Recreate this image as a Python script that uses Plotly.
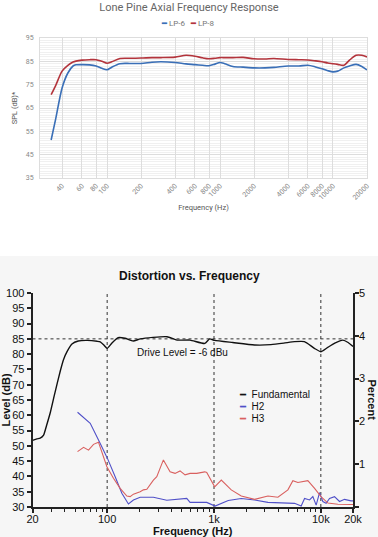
import plotly.graph_objects as go
import math

# ---------------- Top chart data ----------------
fr_freq = [32, 35, 40, 45, 50, 53, 60, 70, 80, 90, 100, 110, 130, 160, 200, 250, 300, 400, 500, 600,
           700, 800, 900, 1000, 1100, 1300, 1600, 2000, 2500, 3000, 4000, 5000, 6000, 7000, 8000,
           9000, 10000, 11000, 12500, 14000, 16000, 18000, 20000]
lp6 = [51.3, 60.0, 73.6, 80.0, 83.0, 83.5, 83.6, 83.5, 83.0, 82.0, 81.4, 82.5, 84.0, 84.1, 84.1, 84.6,
       84.8, 84.5, 83.9, 83.6, 83.3, 83.1, 83.8, 84.5, 84.0, 82.8, 82.5, 82.2, 82.2, 82.4, 83.0, 83.0,
       83.3, 82.6, 81.8, 81.0, 80.5, 80.8, 82.2, 83.0, 83.7, 82.8, 81.3]
lp8 = [70.7, 74.5, 80.8, 83.3, 84.7, 85.1, 85.5, 85.7, 85.7, 85.0, 84.2, 84.8, 86.2, 86.3, 86.4, 86.6,
       86.6, 86.8, 87.6, 87.2, 86.5, 86.1, 86.3, 86.6, 86.6, 86.6, 86.7, 86.1, 86.0, 86.2, 85.8, 85.7,
       85.6, 85.2, 84.8, 84.3, 84.0, 83.7, 83.3, 85.5, 87.6, 87.6, 86.9]
fr_names = ["LP-6", "LP-8"]
fr_colors = ["#3a6fb7", "#b3343c"]
fr_ticks = [40, 60, 80, 100, 200, 400, 600, 800, 1000, 2000, 4000, 6000, 8000, 10000, 20000]
fr_yticks = [35, 45, 55, 65, 75, 85, 95]

# ---------------- Bottom chart data ----------------
fund_freq = [20, 22, 23.6, 25.4, 27, 29.4, 32, 34.1, 36.4, 39, 42.1, 46.8, 53.6, 65, 80.6, 86.1, 93,
             100, 110, 126.7, 147, 175, 204, 269, 364, 451, 596, 818, 910, 1012, 1500, 2395, 3409,
             4500, 5669, 7014, 8700, 10040, 11600, 13500, 16069, 18000, 20000]
fund_db = [51.8, 52.3, 52.5, 53.5, 56.5, 61.0, 66.5, 70.5, 74.5, 78.2, 80.8, 83.3, 84.3, 84.5, 84.2,
           84.0, 83.0, 81.9, 83.5, 85.4, 85.2, 84.3, 85.0, 85.5, 85.7, 84.6, 84.6, 83.5, 85.0, 84.5,
           83.8, 83.0, 83.1, 83.6, 84.1, 84.1, 81.9, 80.8, 82.2, 83.6, 84.6, 83.8, 82.5]
h2_freq = [52.8, 69.4, 86.1, 100.6, 118.8, 137.2, 158.1, 176.1, 203.6, 252.3, 270.8, 361.4, 481,
           555.7, 596.8, 740, 855, 1023, 1170, 1360, 1799, 2401, 3196, 4579, 5679, 6544, 7042,
           7843, 8418, 9040, 9725, 10440, 11210, 12060, 13430, 14960, 16650, 19200, 20000]
h2_db = [61.0, 57.4, 50.8, 45.9, 39.9, 34.5, 31.0, 32.3, 33.2, 33.2, 33.2, 32.2, 32.5, 32.8, 31.5,
         31.4, 31.5, 30.3, 31.2, 32.1, 32.8, 32.3, 31.5, 31.4, 31.2, 30.3, 32.8, 32.3, 33.4, 30.6,
         34.7, 31.8, 31.2, 32.8, 33.4, 31.8, 32.5, 32.0, 32.0]
h3_freq = [52.8, 60.1, 66.9, 74.5, 82.9, 89.2, 99.4, 114.5, 132.3, 152.8, 164.1, 176.1, 189.5, 203.6,
           218.4, 235, 270.8, 291.3, 335.9, 388, 432, 481, 535.8, 596.8, 689, 818.7, 855, 943.6,
           1015, 1170, 1451, 1799, 2401, 3196, 3964, 4916, 5474, 6095, 7557, 8742, 10040, 11640,
           14420, 19200, 20000]
h3_db = [48.1, 49.5, 48.6, 50.5, 51.2, 48.1, 43.2, 39.4, 36.1, 33.6, 33.4, 34.2, 34.5, 35.0, 35.6,
         35.8, 38.8, 39.9, 45.4, 41.5, 41.0, 41.8, 40.5, 41.0, 41.0, 41.5, 41.3, 38.3, 36.6, 38.8,
         35.6, 33.6, 32.5, 33.6, 33.2, 35.6, 38.6, 38.0, 38.6, 36.1, 33.4, 31.3, 30.9, 30.8, 30.8]
dist_names = ["Fundamental", "H2", "H3"]
dist_colors = ["#111111", "#5050c8", "#d9605f"]
dist_xticks = [20, 100, 1000, 10000, 20000]
dist_xticktext = ["20", "100", "1k", "10k", "20k"]
dist_minor = [30, 40, 50, 60, 70, 80, 90, 200, 300, 400, 500, 600, 700, 800, 900,
              2000, 3000, 4000, 5000, 6000, 7000, 8000, 9000]
ref_freqs = [100, 1000, 10000]
drive_level = 85
level_ticks = list(range(30, 101, 5))
pct_ticks = [0, 1, 2, 3, 4, 5]
pct_ticktext = ["", "1", "2", "3", "4", "5"]

W, H = 378, 537


def px_x(p):
    return p / W


def px_y(p):
    return 1 - p / H


fig = go.Figure()

# top chart traces
for xs, ys, nm, col in [(fr_freq, lp6, fr_names[0], fr_colors[0]), (fr_freq, lp8, fr_names[1], fr_colors[1])]:
    fig.add_trace(go.Scatter(x=xs, y=ys, name=nm, mode="lines", showlegend=False,
                             line=dict(color=col, width=1.6, shape="spline", smoothing=0.8),
                             xaxis="x", yaxis="y"))

# bottom reference lines
for f in ref_freqs:
    fig.add_trace(go.Scatter(x=[f, f], y=[level_ticks[0], level_ticks[-1]], mode="lines",
                             line=dict(color="#333", width=1, dash="dot"), xaxis="x2", yaxis="y2",
                             showlegend=False, hoverinfo="skip"))
fig.add_trace(go.Scatter(x=[dist_xticks[0], dist_xticks[-1]], y=[drive_level, drive_level], mode="lines",
                         line=dict(color="#333", width=1, dash="dot"), xaxis="x2", yaxis="y2",
                         showlegend=False, hoverinfo="skip"))

fig.add_trace(go.Scatter(x=fund_freq, y=fund_db, name=dist_names[0], mode="lines", showlegend=False,
                         line=dict(color=dist_colors[0], width=1.4, shape="spline", smoothing=0.5),
                         xaxis="x2", yaxis="y2"))
fig.add_trace(go.Scatter(x=h2_freq, y=h2_db, name=dist_names[1], mode="lines", showlegend=False,
                         line=dict(color=dist_colors[1], width=1.1), xaxis="x2", yaxis="y2"))
fig.add_trace(go.Scatter(x=h3_freq, y=h3_db, name=dist_names[2], mode="lines", showlegend=False,
                         line=dict(color=dist_colors[2], width=1.1), xaxis="x2", yaxis="y2"))
# invisible trace so the right-hand percent axis is drawn
fig.add_trace(go.Scatter(x=[dist_xticks[0]], y=[pct_ticks[0]], mode="markers", marker=dict(opacity=0),
                         xaxis="x2", yaxis="y3", showlegend=False, hoverinfo="skip"))

top_font = "Roboto, Arial, sans-serif"
bot_font = "Liberation Sans, Arial, sans-serif"

annotations = [
    dict(text="<b>Distortion vs. Frequency</b>", xref="paper", yref="paper", x=0.5, y=px_y(276),
         xanchor="center", yanchor="middle", showarrow=False, font=dict(family=bot_font, size=12, color="#111")),
    dict(text="Drive Level = -6 dBu", xref="paper", yref="paper", x=px_x(182), y=px_y(352),
         xanchor="center", yanchor="middle", showarrow=False, font=dict(family=bot_font, size=10, color="#111")),
    dict(text="<b>Percent</b>", xref="paper", yref="paper", x=px_x(371.5), y=px_y(400), textangle=90,
         xanchor="center", yanchor="middle", showarrow=False, font=dict(family=bot_font, size=11, color="#111")),
    # top legend
    dict(text=(f"<span style='color:{fr_colors[0]}'><b>━</b></span> {fr_names[0]}&nbsp;&nbsp;&nbsp;"
               f"<span style='color:{fr_colors[1]}'><b>━</b></span> {fr_names[1]}"),
         xref="paper", yref="paper", x=px_x(188), y=px_y(24), xanchor="center", yanchor="middle",
         showarrow=False, font=dict(family=top_font, size=8, color="#777")),
]
# bottom legend
for i, (nm, col) in enumerate(zip(dist_names, dist_colors)):
    annotations.append(dict(text=f"<span style='color:{col}'>━</span>&nbsp;&nbsp;{nm}",
                            xref="paper", yref="paper", x=px_x(237), y=px_y(395 + 11.7 * i),
                            xanchor="left", yanchor="middle", showarrow=False,
                            font=dict(family=bot_font, size=10, color="#111")))

fig.update_layout(
    width=W, height=H,
    margin=dict(l=0, r=0, t=0, b=0),
    paper_bgcolor="white",
    plot_bgcolor="rgba(0,0,0,0)",
    showlegend=False,
    title=dict(text="Lone Pine Axial Frequency Response", x=0.5, xanchor="center", y=px_y(7), yanchor="middle",
               font=dict(family=top_font, size=11, color="#666")),
    xaxis=dict(type="log", domain=[px_x(40), px_x(367)], range=[math.log10(25.5), math.log10(20000)],
               tickvals=fr_ticks, ticktext=[str(v) for v in fr_ticks], tickangle=-45,
               tickfont=dict(family=top_font, size=7, color="#888"), showgrid=True, gridcolor="#ddd",
               gridwidth=1, zeroline=False, showline=True, mirror=True, linecolor="#ddd", linewidth=1,
               ticks="", anchor="y", automargin=False,
               title=dict(text="Frequency (Hz)", font=dict(family=top_font, size=7.5, color="#555"), standoff=4)),
    yaxis=dict(domain=[px_y(178), px_y(38)], range=[35, 95], tickvals=fr_yticks,
               tickfont=dict(family=top_font, size=7, color="#888"), showgrid=True, gridcolor="#ddd",
               minor=dict(dtick=1, tick0=35, showgrid=True, gridcolor="#f0f0f0", gridwidth=1),
               zeroline=False, showline=True, mirror=True, linecolor="#ddd", linewidth=1,
               ticks="", anchor="x", automargin=False, ticklabelstandoff=4,
               title=dict(text="SPL (dB)*", font=dict(family=top_font, size=7.5, color="#555"), standoff=7)),
    xaxis2=dict(type="log", domain=[px_x(32.5), px_x(353)], range=[math.log10(20), math.log10(20000)],
                tickvals=dist_xticks, ticktext=dist_xticktext, ticks="outside", ticklen=4, tickwidth=1.5,
                tickcolor="#222", showline=True, linecolor="#222", linewidth=1.8, showgrid=False, zeroline=False,
                minor=dict(tickvals=dist_minor, ticks="outside", ticklen=3, tickcolor="#222", tickwidth=1),
                tickfont=dict(family=bot_font, size=11, color="#111"), anchor="y2", automargin=False,
                ticklabelstandoff=-3,
                title=dict(text="<b>Frequency (Hz)</b>", font=dict(family=bot_font, size=11, color="#111"), standoff=2)),
    yaxis2=dict(domain=[px_y(507), px_y(293)], range=[30, 100], tickvals=level_ticks,
                ticks="outside", ticklen=4, tickwidth=1.5, tickcolor="#222", showline=True, linecolor="#222",
                linewidth=1.8, showgrid=False, zeroline=False, anchor="x2", automargin=False,
                tickfont=dict(family=bot_font, size=11, color="#111"),
                title=dict(text="<b>Level (dB)</b>", font=dict(family=bot_font, size=11, color="#111"), standoff=2)),
    yaxis3=dict(domain=[px_y(507), px_y(293)], range=[0, 5], tickvals=pct_ticks, ticktext=pct_ticktext,
                overlaying="y2", side="right", anchor="x2", ticks="outside", ticklen=4, tickwidth=1.5,
                tickcolor="#222", showline=True, linecolor="#222", linewidth=1.8, showgrid=False, zeroline=False,
                ticklabelstandoff=-2,
                tickfont=dict(family=bot_font, size=11, color="#111"), automargin=False),
    shapes=[dict(type="rect", xref="paper", yref="paper", x0=0, x1=1, y0=0, y1=px_y(256),
                 fillcolor="#f6f6f6", line=dict(width=0), layer="below")],
    annotations=annotations,
)

fig.write_html("out.html", config={"displayModeBar": False},
               post_script="document.body.style.margin='0';")
